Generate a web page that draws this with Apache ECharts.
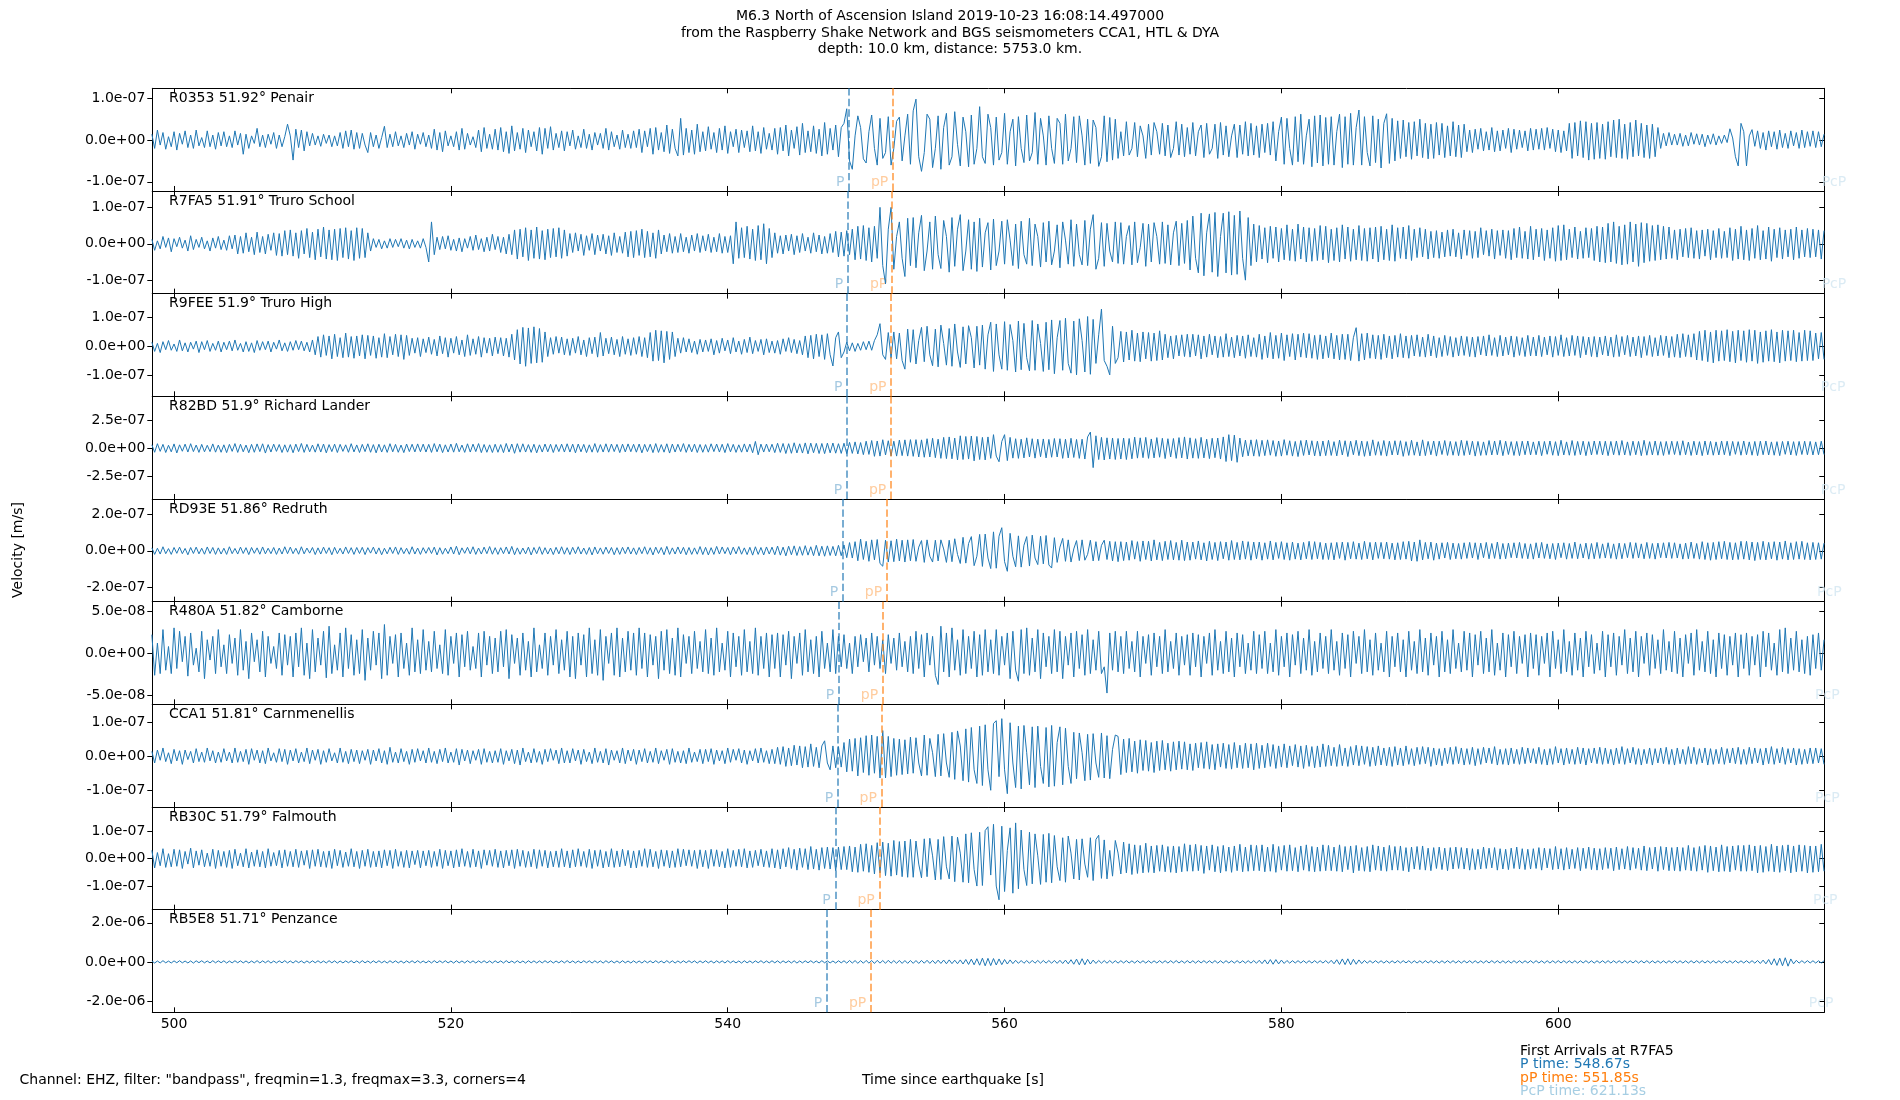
<!DOCTYPE html>
<html><head><meta charset="utf-8">
<script src="https://cdn.jsdelivr.net/npm/echarts@6/dist/echarts.min.js"></script>
<style>html,body{margin:0;padding:0;background:#fff}#c{width:1900px;height:1100px}</style>
</head><body><div id="c"></div>
<script>
// ---- data ----
const T0 = 498.4;      // time of first sample [s]
const DT = 0.2;        // sample spacing [s]
const ROW_SPAN = 5;    // each row below holds 5 s of samples
const xMin = 498.43, xMax = 619.22;
const xTicks = [500, 520, 540, 560, 580, 600];
const stationCodes = ['R0353','R7FA5','R9FEE','R82BD','RD93E','R480A','CCA1','RB30C','RB5E8'];
const distancesDeg = [51.92, 51.91, 51.9, 51.9, 51.86, 51.82, 51.81, 51.79, 51.71];
const stationNames = ['Penair','Truro School','Truro High','Richard Lander','Redruth','Camborne','Carnmenellis','Falmouth','Penzance'];
const pTimes   = [548.76, 548.67, 548.62, 548.60, 548.30, 548.01, 547.94, 547.77, 547.15];
const ppTimes  = [551.92, 551.85, 551.80, 551.78, 551.48, 551.19, 551.10, 550.95, 550.33];
const pcpTimes = [621.13, 621.13, 621.07, 621.07, 620.80, 620.65, 620.65, 620.50, 620.20];
const yMins = [-122, -137, -175, -450, -280, -60.3, -149, -186, -2580];   // nm/s
const yMaxs = [124, 145, 184, 460, 285, 61, 152, 188, 2670];
const yTicks = [[-100,0,100],[-100,0,100],[-100,0,100],[-250,0,250],[-200,0,200],[-50,0,50],[-100,0,100],[-100,0,100],[-2000,0,2000]];
const refStation = 'R7FA5';
const refArrivals = [['P', 548.67], ['pP', 551.85], ['PcP', 621.13]];
const titleLines = ['M6.3 North of Ascension Island 2019-10-23 16:08:14.497000',
  'from the Raspberry Shake Network and BGS seismometers CCA1, HTL & DYA',
  'depth: 10.0 km, distance: 5753.0 km.'];

// velocity traces in nm/s; row r starts at T0 + r*ROW_SPAN, samples every DT
const r0353 = [
[14,-20,24,-12,18,-22,8,-16,20,-24,16,-10,22,-18,12,-20,24,-14,6,-18,22,-16,12,-22,18],
[-14,20,-16,10,-18,22,-12,16,-34,14,-20,10,-8,28,-16,12,-18,14,-10,18,-20,12,-16,8,38],
[10,-48,26,-18,24,-26,20,-14,16,-12,10,-15,14,-8,12,-16,10,-14,18,-20,22,-16,24,-22,18],
[-20,16,-12,-30,18,-16,12,-20,6,33,-18,14,-16,20,-14,10,-18,16,-12,20,-22,14,-10,18,-16],
[12,-20,26,-24,18,-28,22,-14,10,-16,20,-24,28,-22,16,-12,8,-18,24,-28,30,-20,14,-22,26],
[-24,30,-28,20,-32,34,-26,18,-22,28,-30,24,-16,20,-26,30,-34,28,-20,32,-24,16,-18,22,-26],
[20,-14,24,-22,10,-18,26,-20,14,-24,18,-12,16,-20,28,-24,20,-16,12,-22,24,-18,14,-20,22],
[-18,26,-30,22,-16,28,-34,30,-24,18,-28,36,-32,26,-20,-38,52,-36,28,-30,24,-34,38,-28,20],
[-26,32,-22,18,-30,28,-24,34,-32,20,-16,26,-30,24,-18,22,-28,34,-26,20,-32,30,-22,16,-24],
[28,-34,30,-26,36,-38,24,-20,32,-36,40,-30,22,-28,34,-32,26,-38,42,-34,28,-24,36,-40,30],
[40,75,-50,-70,10,58,30,-45,-55,20,60,-20,-60,52,-44,-30,56,-60,-20,45,55,-50,10,62,-58],
[70,98,-40,-75,-30,62,50,-66,-20,58,-70,30,64,-60,-40,68,-10,-62,55,20,-64,60,-58,-20,80],
[-40,-56,62,30,-60,55,-48,-30,64,-58,20,50,-62,56,-20,-54,60,-50,-30,66,-58,52,10,-60,58],
[-20,-56,52,40,-58,62,-50,-20,56,-54,58,10,-60,50,-56,48,30,-63,-40,58,-52,54,-48,50,-44],
[20,-38,44,-36,-20,42,-40,34,10,-44,38,-36,42,20,-34,40,-38,36,-42,-20,44,-36,38,-40,30],
[-34,42,-38,20,36,-42,40,-34,-20,38,-44,42,-36,34,-40,10,38,-42,36,-34,44,-38,40,-36,34],
[-42,38,-30,40,-36,44,-50,20,55,-58,52,-20,-60,56,-52,62,-58,10,50,-64,58,-55,60,-62,54],
[-58,56,-60,20,62,-66,56,-58,64,-60,30,72,-60,56,-30,-62,58,-54,50,-67,40,63,-56,52,-50],
[46,-44,48,-40,42,-46,44,-38,50,-42,40,-45,38,-44,42,-36,40,-42,34,-38,44,-40,36,-42,38],
[-28,24,-30,26,-22,28,-26,20,-24,30,-28,22,-26,24,-20,28,-30,26,-22,24,-18,22,-26,28,-24],
[26,-22,28,-24,30,-20,26,-28,24,-30,22,-26,40,-44,42,-38,46,-42,44,-48,40,-46,42,-44,38],
[-46,44,-40,48,-42,50,-44,38,-46,42,-40,48,-38,40,-42,36,-44,38,-40,30,-20,16,-14,18,-12],
[14,-12,16,-15,12,-14,18,-10,15,-12,14,-16,12,-10,15,-12,10,-8,12,-6,27,5,-40,-62,40],
[20,-62,10,25,-15,22,-20,18,-24,22,-16,20,-22,24,-18,16,-20,22,-14,18,-20,24,-18,20,-15],
[22,-18,20,-16,14]];

const r7fa5 = [
[12,-18,8,-14,20,-10,16,-22,14,-8,18,-12,10,-20,22,-16,12,-10,18,-14,8,-20,16,-12,20],
[-16,10,-18,22,-14,24,-28,20,-26,30,-22,18,-30,32,-24,20,-28,26,-18,30,-32,28,-34,36,-30],
[38,-34,30,-40,36,-28,42,-38,32,-44,40,-36,46,-42,38,-44,40,-46,42,-38,44,-42,36,-46,44],
[-40,42,-38,30,-20,14,-10,12,-14,8,-12,14,-10,12,-8,14,-12,10,-14,12,-10,8,-12,14,-10],
[-50,60,-30,18,-16,20,-14,22,-18,12,-20,16,-22,14,-12,20,-18,24,-16,14,-22,18,-20,26,-16],
[20,-24,18,-28,26,-30,38,-42,40,-36,44,-46,38,-40,46,-42,36,-44,40,-38,42,-36,44,-40,38],
[-34,28,-24,30,-20,26,-32,22,-18,28,-30,24,-20,26,-28,22,-32,30,-24,20,-26,32,-36,34,-38],
[36,-32,40,-38,34,-36,30,-40,38,-28,24,-22,28,-26,20,-24,28,-22,18,-26,24,-20,28,-24,22],
[-20,26,-24,18,-22,28,-26,20,-24,22,-55,60,-40,44,-38,48,-42,40,-46,50,-44,55,-55,42,-38],
[30,-26,22,-28,24,-20,26,-30,22,-24,28,-20,18,-26,30,-22,24,-28,20,-26,28,-24,34,-36,32],
[-34,36,-30,40,-44,48,-42,50,-46,44,-50,48,-40,100,-60,-110,40,100,-70,20,60,-40,-90,70,-60],
[72,-66,30,78,-74,-20,60,-70,76,-30,-68,64,20,-78,72,-62,40,80,-74,-20,66,-70,60,-76,70],
[-64,30,58,-72,68,-60,-20,62,-56,66,10,-60,54,-68,62,-30,-56,70,-60,54,20,-64,58,-50,62],
[-58,-20,52,-66,60,10,-56,66,-62,54,-30,-58,64,-60,40,80,-70,-40,58,-62,56,-20,-50,60,-54],
[58,-56,20,50,-58,60,-52,-10,56,-62,54,-50,58,20,-56,60,-54,52,-58,30,62,-60,56,-54,64],
[-72,76,-40,-80,84,-88,30,82,-78,86,-90,20,84,-80,88,-86,78,-84,90,-40,-100,72,-60,54,-50],
[50,-42,44,-52,48,-40,46,-50,42,-44,52,-46,40,-48,54,-42,46,-50,44,-48,42,-46,50,-44,48],
[-52,40,-46,44,-50,52,-42,46,-48,40,-44,50,-46,42,-48,44,-42,46,-50,48,-44,40,-46,52,-48],
[44,-40,46,-42,50,-46,40,-38,44,-36,40,-42,34,-38,36,-40,32,-36,38,-34,40,-36,30,-42,38],
[-32,36,-40,34,-38,44,-30,36,-34,40,-42,36,-32,38,-40,36,-44,42,-38,46,-40,34,-42,48,-44],
[40,-36,42,-46,38,-40,44,-48,50,-46,52,-44,40,-38,46,-42,34,-40,44,-38,42,-46,48,-50,46],
[-52,56,-50,60,-54,48,-58,52,-56,60,-50,54,-62,58,-52,56,-48,50,-46,52,-44,48,-42,46,-40],
[38,-44,40,-36,42,-38,44,-40,36,-42,38,-34,40,-44,36,-38,42,-40,34,-38,44,-46,40,-42,48],
[-44,38,-46,42,-40,50,-44,36,-42,46,-48,40,-38,44,-42,38,-36,40,-44,46,-40,38,-36,42,-38],
[40,-36,38,-42,36]];

const r9fee = [
[14,-18,10,-22,16,-12,20,-14,8,-18,22,-16,12,-20,14,-10,18,-22,16,-12,20,-18,10,-14,18],
[-20,14,-12,18,-16,22,-14,10,-20,16,-18,12,-22,20,-14,16,-12,18,-20,14,-10,22,-16,12,-18],
[16,-14,20,-12,18,-16,14,-20,22,-30,34,-38,40,-32,36,-44,42,-36,30,-40,46,-38,34,-42,36],
[-34,40,-44,38,-32,36,-42,30,-38,44,-40,34,-30,42,-36,40,-46,38,-32,28,-24,30,-36,26,-22],
[32,-28,24,-34,36,-26,30,-38,28,-24,34,-30,22,-36,40,-32,26,-28,34,-38,30,-24,28,-34,32],
[-26,30,-34,28,-38,42,-48,58,-62,66,-70,64,-60,68,-58,62,-56,50,-36,30,-28,34,-24,32,-30],
[26,-32,28,-24,34,-30,22,-36,30,-26,32,-38,48,-34,28,-26,32,-30,24,-36,34,-28,26,-32,30],
[-28,34,-36,30,-40,48,-52,56,-50,54,-58,52,-46,50,-36,28,-24,30,-20,26,-22,18,-28,24,-20],
[22,-18,26,-30,20,-24,28,-16,22,-26,30,-20,18,-28,24,-22,32,-26,20,-18,24,-30,26,-22,18],
[-24,20,-28,26,-18,30,-22,24,-26,20,-30,36,-40,38,-44,42,-36,40,-46,44,-30,-69,30,50,-40],
[-20,14,-16,12,-18,10,-14,16,-12,18,-14,20,40,79,-30,-46,48,-42,50,-44,46,-50,-80,60,-56],
[58,-62,20,66,-54,70,-30,-68,60,-72,74,10,-66,62,-70,78,-20,-74,68,-62,72,30,-76,70,-66],
[74,-80,40,84,-88,78,-30,-80,86,-84,76,20,-90,88,-82,80,-40,-86,90,-84,78,10,-88,84,-82],
[92,-96,30,90,-84,98,-60,-94,88,-100,96,20,-90,104,-98,94,-60,40,130,-50,-70,-100,70,-60,-40],
[52,-55,50,-48,56,-52,46,-54,50,-44,48,-52,46,-50,54,-48,42,-40,36,-44,38,-34,40,-36,42],
[-38,42,-34,40,-44,36,-38,42,-30,36,-40,34,-38,44,-36,32,-40,38,-34,36,-42,40,-36,30,-38],
[42,-46,36,-40,48,-44,38,-42,46,-50,40,-36,44,-48,42,-38,46,-40,44,-42,38,-46,40,-44,36],
[-40,46,-44,38,-48,42,-46,42,-50,30,65,-52,44,-48,46,-42,40,-44,38,-46,42,-40,36,-44,38],
[-38,44,-40,36,-42,38,-34,40,-36,32,-38,42,-34,36,-40,30,-36,38,-32,34,-38,30,-34,36,-32],
[34,-36,32,-38,34,-30,36,-34,40,-32,30,-36,38,-34,32,-30,36,-38,34,-32,30,-36,38,-34,32],
[-34,38,-36,32,-30,36,-38,34,-32,40,-36,30,-34,38,-32,36,-40,34,-30,32,-36,34,-38,32,-30],
[36,-34,32,-38,40,-36,34,-30,38,-36,32,-34,36,-40,34,-32,38,-36,30,-34,38,-32,36,-40,34],
[-38,42,-40,44,-36,40,-38,44,-48,52,-50,56,-54,50,-58,56,-52,54,-50,58,-54,52,-58,56,-50],
[54,-56,58,-52,56,-60,50,-56,54,-52,58,-54,50,-58,56,-52,54,-50,56,-54,48,-52,56,-50,54],
[-50,46,-44,48,-46]];

const r82bd = [
[30,-36,40,-28,34,-38,26,-32,38,-42,30,-27,36,-34,40,-30,28,-37,34,-32,26,-30,38,-35,28],
[-36,30,-39,34,-28,41,-37,35,-32,28,-40,34,-36,38,-30,39,-43,32,-34,36,-28,33,-38,30,-35],
[32,-40,36,-30,42,-37,34,-32,28,-35,39,-34,37,-41,32,-30,36,-38,34,-28,30,-36,40,-33,29],
[-38,34,-30,39,-36,32,-41,35,-34,30,-37,40,-32,34,-36,28,-39,37,-30,35,-33,38,-31,36,-34],
[34,-37,41,-32,36,-39,30,-34,37,-35,43,-32,28,-37,39,-34,36,-30,41,-39,33,-36,30,-38,35],
[-36,32,-39,42,-34,37,-45,40,-35,39,-34,32,-37,35,-41,30,-34,37,-32,35,-38,33,-30,36,-34],
[39,-34,36,-41,37,-32,34,-39,30,-35,41,-37,32,-34,39,-35,37,-30,34,-39,36,-33,38,-31,35],
[-35,37,-41,34,-30,35,-39,41,-37,32,-35,39,-43,37,-34,35,-30,41,-37,34,-32,36,-38,33,-36],
[32,-35,39,-30,37,-34,35,-39,41,-32,34,-37,30,-35,38,-34,36,-40,60,-58,36,-34,37,-32,35],
[-39,44,-37,42,-47,40,-45,48,-42,39,-43,47,-50,45,-40,43,-47,42,-48,45,-41,46,-44,40,-46],
[44,-48,52,-46,56,-51,50,-57,62,-55,68,-72,64,-70,75,-60,66,-68,62,-70,72,-66,74,-70,76],
[-72,76,-78,74,-80,84,-78,88,-84,80,-90,96,-92,100,-94,90,-104,110,-100,104,-96,108,-112,104,-100],
[96,-104,100,-90,120,-70,-120,60,120,-110,96,-88,84,-90,80,-86,92,-78,84,-88,80,-76,82,-86,78],
[-80,86,-78,84,-90,80,-86,88,-82,78,-90,80,-96,100,143,-172,110,-100,96,-104,92,-96,90,-100,86],
[-96,90,-100,86,-94,98,-88,92,-84,96,-90,82,-86,94,-80,88,-92,84,-78,86,-90,94,-86,100,-96],
[92,-88,84,-90,96,-86,80,-92,88,-84,90,-96,100,-118,120,-110,116,-125,90,-76,72,-68,74,-70,76],
[-72,70,-66,74,-62,68,-72,64,-70,76,-62,66,-70,60,-74,68,-64,72,-60,66,-68,62,-70,64,-66],
[70,-64,58,-68,72,-60,66,-74,62,-58,70,-66,64,-72,60,-68,74,-62,58,-64,68,-70,62,-60,66],
[-60,66,-72,58,-64,70,-62,56,-68,74,-66,60,-58,64,-70,62,-56,68,-64,60,-62,58,-66,70,-64],
[66,-58,62,-70,60,-64,56,-62,68,-60,64,-58,70,-66,62,-56,58,-64,60,-66,62,-58,64,-60,56],
[-58,62,-66,60,-54,64,-62,58,-66,70,-60,56,-62,68,-64,60,-58,62,-66,58,-60,64,-56,62,-60],
[62,-66,60,-58,64,-62,68,-60,56,-64,62,-58,60,-66,70,-62,58,-60,64,-62,58,-64,60,-56,62],
[-56,60,-62,66,-58,54,-64,62,-60,58,-66,64,-58,60,-62,56,-60,64,-58,62,-66,60,-54,58,-62],
[64,-58,56,-62,60,-66,62,-58,64,-60,56,-62,58,-66,60,-54,62,-60,58,-64,60,-56,62,-58,60],
[-60,56,-58,62,-56]];

const rd93e = [
[16,-20,14,-18,22,-16,12,-20,18,-14,20,-16,13,-22,18,-15,20,-17,14,-19,21,-15,18,-20,16],
[-18,14,-20,22,-16,13,-18,20,-15,17,-21,18,-14,16,-19,21,-17,14,-16,18,-20,15,-18,22,-16],
[20,-16,14,-19,22,-17,15,-13,18,-21,16,-18,20,-15,17,-22,19,-16,14,-18,21,-15,17,-20,18],
[-15,19,-21,17,-13,20,-18,16,-22,14,-17,19,-15,21,-20,17,-16,14,-19,22,-18,15,-20,17,-14],
[18,-15,20,-23,17,-19,14,-16,21,-18,25,-22,16,-14,19,-17,22,-20,15,-18,20,-16,23,-19,17],
[-20,17,-16,21,-18,24,-22,16,-19,15,-17,20,-23,18,-16,22,-20,17,-18,15,-21,19,-17,22,-19],
[17,-21,19,-16,22,-18,15,-20,18,-23,21,-17,16,-19,20,-15,18,-22,17,-20,19,-16,21,-18,16],
[-21,18,-16,22,-19,17,-23,20,-15,18,-22,24,-20,16,-18,21,-17,19,-22,18,-20,16,-19,23,-21],
[19,-23,17,-20,24,-18,21,-16,18,-22,20,-17,23,-19,16,-21,19,-24,22,-20,18,-23,21,-18,20],
[-22,26,-24,20,-28,25,-22,27,-26,23,-25,28,-24,22,-27,30,-28,25,-30,27,-26,24,-28,30,-27],
[32,-38,45,-40,50,-55,64,-48,52,-58,60,-50,62,-70,-85,58,-62,55,-60,64,-56,58,-62,60,-55],
[62,-58,20,56,-64,60,-30,-62,58,-56,60,10,-64,58,-60,66,-20,-70,74,-68,40,78,-82,-30,90],
[-86,92,-40,-98,104,-96,80,127,-60,-113,96,-30,-88,82,-90,30,78,-84,86,-40,-76,80,-72,84,-78],
[-95,72,-64,20,68,-58,60,-62,10,56,-54,60,-52,-20,58,-56,50,-54,30,58,-48,52,-56,50,-60],
[50,-54,48,-52,56,-46,50,-58,54,-48,52,-56,60,-50,46,-54,52,-48,56,-50,46,-52,58,-54,48],
[-52,48,-46,54,-50,44,-56,52,-48,46,-54,50,-44,48,-52,56,-48,46,-50,54,-46,50,-52,48,-44],
[48,-52,44,-46,54,-50,46,-42,50,-48,44,-52,48,-46,42,-50,46,-44,52,-48,50,-44,46,-48,42],
[-48,44,-50,46,-42,48,-52,46,-44,50,-46,42,-48,52,-44,46,-50,48,-42,46,-44,48,-46,42,-50],
[44,-48,50,-46,52,-56,48,-58,60,-50,46,-44,48,-52,42,-46,44,-40,46,-48,42,-44,40,-46,44],
[-42,46,-40,44,-48,42,-38,46,-44,40,-42,48,-46,40,-44,42,-38,44,-40,46,-42,40,-44,38,-46],
[44,-40,46,-42,38,-44,40,-48,42,-38,44,-46,40,-42,48,-44,38,-40,42,-46,40,-44,46,-42,38],
[-40,44,-42,38,-46,42,-44,40,-38,46,-42,44,-40,38,-44,46,-42,40,-46,42,-38,44,-40,46,-42],
[44,-40,38,-46,42,-44,48,-42,40,-46,50,-48,44,-52,46,-48,50,-44,52,-48,46,-50,44,-48,52],
[-46,52,-50,48,-54,46,-48,52,-50,46,-44,50,-52,48,-46,54,-50,44,-48,50,-46,52,-48,44,-50],
[46,-48,44,-46,42]];

const r480a = [
[22,-26,12,-24,28,-20,8,-24,30,-18,26,-10,20,-27,24,-14,6,-22,26,-30,16,-8,20,-24,28],
[-16,10,-24,22,-12,18,-26,28,-20,14,-30,24,-10,16,-22,26,-28,20,-12,8,-18,24,-26,22,-14],
[20,-28,24,-16,30,-26,12,-30,28,-22,18,-14,26,-29,32,-24,10,-20,24,-28,30,-18,22,-26,16],
[-24,28,-32,18,-20,26,-14,24,-30,34,-26,20,-12,22,-28,24,-18,12,-26,30,-22,16,-24,28,-20],
[14,-22,26,-18,10,-24,28,-26,20,-12,24,-28,22,-16,26,-20,8,-18,24,-28,26,-14,20,-24,18],
[-22,26,-16,28,-30,22,-12,18,-26,24,-20,14,-28,30,-22,10,-18,24,-26,20,-14,28,-24,16,-20],
[26,-28,20,-30,24,-14,22,-28,30,-24,16,-26,28,-32,20,-12,24,-26,30,-28,18,-22,26,-20,24],
[-26,30,-18,24,-28,22,-14,20,-30,26,-20,28,-24,18,-26,30,-28,22,-12,20,-24,26,-18,14,-22],
[28,-24,18,-26,30,-22,12,-20,26,-28,24,-16,20,-26,28,-22,14,-24,30,-26,20,-18,24,-28,22],
[-18,24,-28,22,-14,26,-30,20,-12,24,-26,28,-22,16,-24,20,-28,26,-18,12,-22,28,-24,20,-16],
[22,-18,12,-24,20,-16,22,-10,18,-22,24,-14,20,-18,16,-24,22,-12,18,-20,24,-16,14,-22,20],
[-24,26,-18,22,-28,24,-14,20,-26,-37,32,-22,24,-28,30,-20,16,-26,28,-24,20,-18,26,-28,22],
[-26,28,-22,16,-24,28,-26,20,-14,24,-30,26,-20,-33,28,-24,30,-26,18,-22,28,-30,24,-16,20],
[-24,28,-22,26,-30,20,-14,24,-28,26,-18,22,-26,28,-24,16,-20,26,-24,-16,-47,24,-20,26,-22],
[20,-24,26,-18,14,-22,26,-28,20,-12,22,-26,24,-16,20,-24,28,-22,14,-18,24,-26,20,-14,22],
[-26,24,-16,22,-28,20,-12,24,-26,28,-20,14,-24,26,-22,18,-28,24,-16,22,-24,12,-20,26,-24],
[22,-18,26,-24,12,-22,28,-26,20,-16,24,-28,22,-14,26,-24,18,-20,28,-26,14,-22,24,-18,20],
[-24,28,-20,14,-26,24,-18,22,-28,26,-12,20,-24,28,-22,16,-26,24,-20,12,-22,26,-28,20,-16],
[24,-22,16,-28,26,-20,14,-24,28,-22,18,-26,24,-14,20,-28,26,-22,16,-24,28,-18,12,-22,26],
[-20,24,-28,22,-14,26,-24,18,-22,28,-26,12,-20,24,-28,22,-16,26,-24,20,-12,22,-28,24,-18],
[22,-26,20,-12,24,-28,26,-18,16,-24,28,-22,14,-26,24,-20,18,-28,26,-16,22,-24,12,-20,26],
[-28,22,-16,24,-26,20,-14,28,-24,18,-22,26,-28,20,-12,24,-26,22,-18,16,-24,28,-20,14,-22],
[26,-24,18,-28,22,-12,24,-26,28,-20,14,-22,26,-24,16,-28,24,-18,22,-26,20,-14,24,-28,22],
[-18,24,-26,20,-14,22,-28,26,-16,24,-20,12,-26,28,-22,30,-24,18,-20,26,-22,16,-24,20,-26],
[22,-18,24,-20,16]];

const cca1 = [
[14,-20,18,-12,24,-16,10,-22,20,-14,16,-24,18,-10,14,-20,22,-16,12,-18,24,-14,16,-20,12],
[-18,22,-14,12,-20,24,-18,14,-16,20,-24,22,-12,18,-20,16,-22,24,-14,10,-18,22,-16,20,-24],
[18,-14,22,-20,12,-16,24,-22,18,-12,20,-24,16,-18,22,-14,10,-20,24,-18,14,-22,20,-16,18],
[-22,16,-12,20,-24,18,-14,22,-20,16,-24,26,-18,12,-20,22,-16,14,-24,20,-18,22,-14,16,-20],
[24,-18,14,-22,20,-16,24,-20,12,-18,22,-26,20,-14,18,-22,16,-12,20,-24,22,-18,14,-20,16],
[-18,22,-24,16,-14,20,-22,18,-26,24,-16,12,-20,22,-18,14,-24,20,-16,22,-12,18,-22,24,-20],
[16,-20,22,-14,18,-24,20,-16,12,-22,24,-18,14,-20,22,-26,18,-12,16,-20,24,-22,18,-14,20],
[-24,18,-16,22,-20,14,-18,24,-22,16,-12,20,-24,22,-18,14,-20,16,-22,24,-18,12,-16,20,-22],
[20,-16,22,-24,18,-14,16,-22,24,-18,20,-12,22,-20,18,-24,16,-14,22,-20,24,-18,16,-22,20],
[-22,26,-24,28,-30,24,-28,32,-26,30,-34,28,-32,36,-30,26,-34,30,45,-20,-40,30,-34,28,-32],
[40,-46,50,-44,52,-58,54,-48,60,-56,62,-50,58,-64,75,-64,58,-60,52,-56,50,-54,48,-52,56],
[-50,54,-20,-58,62,-56,52,10,-60,64,-58,66,-20,-62,70,-68,74,30,-72,80,-76,84,-40,-80,88],
[-86,92,-40,-100,96,104,-60,110,-40,-110,98,-20,-92,88,-96,90,10,-84,86,-92,88,-30,-80,84,-90],
[90,-88,40,86,-84,82,-30,-80,70,-66,68,10,-72,64,-70,66,-20,-62,68,-64,60,-66,20,62,58],
[-54,50,-48,52,-46,44,-50,48,-42,46,-44,40,-48,44,-42,46,-40,38,-44,42,-40,44,-38,42,-40],
[36,-42,38,-34,40,-36,42,-38,34,-40,36,-32,38,-36,34,-38,40,-34,32,-36,38,-34,36,-40,38],
[-36,32,-34,38,-30,34,-36,30,-32,36,-34,30,-28,34,-32,30,-36,32,-30,28,-34,30,-32,36,-30],
[32,-28,26,-30,34,-28,24,-30,28,-26,32,-28,30,-24,28,-30,26,-28,30,-26,24,-28,26,-30,28],
[-26,24,-28,30,-24,22,-28,26,-24,28,-22,26,-30,24,-26,22,-28,24,-22,26,-24,28,-22,24,-26],
[22,-24,26,-28,22,-24,26,-20,24,-22,28,-26,20,-24,22,-26,24,-22,20,-24,26,-22,24,-20,22],
[-22,26,-24,20,-26,22,-24,28,-20,22,-26,24,-22,20,-24,26,-22,24,-26,22,-20,24,-22,26,-24],
[24,-22,20,-26,24,-22,28,-24,22,-20,26,-24,22,-26,20,-22,24,-26,22,-20,24,-22,26,-24,20],
[-26,24,-22,20,-24,28,-22,26,-24,22,-20,24,-26,22,-24,20,-22,26,-24,22,-20,24,-22,26,-24],
[20,-24,26,-22,24,-20,22,-26,24,-22,28,-24,22,-20,26,-24,22,-20,24,-26,22,-24,20,-22,24],
[-22,24,-20,22,-24]];

const rb30c = [
[30,-34,22,-26,36,-32,18,-30,34,-28,32,-36,26,-20,38,-34,28,-24,32,-30,20,-28,34,-36,30],
[-28,26,-32,30,-36,34,-26,20,-30,36,-34,24,-28,32,-30,26,-34,36,-28,22,-26,30,-34,32,-28],
[26,-30,34,-32,28,-24,30,-36,32,-28,34,-30,26,-32,28,-36,34,-26,30,-32,24,-28,36,-30,26],
[-36,30,-28,34,-32,26,-30,28,-34,32,-26,30,-36,34,-28,26,-32,30,-34,28,-22,30,-34,28,-26],
[30,-32,26,-28,34,-36,30,-26,28,-34,32,-30,36,-28,26,-32,34,-30,28,-36,32,-24,30,-28,34],
[-32,28,-34,30,-26,32,-36,34,-28,30,-32,26,-30,34,-36,32,-28,30,-34,26,-30,28,-32,36,-30],
[28,-34,32,-30,36,-28,26,-32,34,-36,30,-28,32,-34,26,-30,36,-32,28,-30,34,-26,30,-34,28],
[-34,30,-28,36,-32,34,-30,26,-36,32,-28,30,-34,28,-32,36,-30,34,-26,32,-28,30,-36,32,-30],
[30,-36,34,-28,32,-30,26,-34,36,-32,30,-28,34,-30,36,-34,28,-32,30,-26,34,-30,28,-32,36],
[-34,32,-38,36,-30,40,-36,34,-42,38,-32,36,-40,44,-38,34,-42,40,-36,42,-38,40,-44,42,-40],
[44,-40,46,-48,42,-50,52,-46,54,-50,48,-56,58,-52,60,-62,56,-64,66,-60,62,-66,64,-68,70],
[-68,64,-20,-70,72,-66,74,10,-78,70,-76,80,-30,-74,82,-84,78,20,-86,90,-88,94,-40,-100,96],
[-98,102,116,-60,125,-100,-150,118,-120,30,112,-126,130,-110,104,-40,-98,96,-92,90,10,-94,88,-86,92],
[-88,84,-30,-80,76,-86,82,20,-74,70,-78,72,-20,-68,76,-80,70,85,-72,68,-74,30,-64,66,20],
[-56,60,-52,54,-58,50,-54,48,-52,56,-50,46,-52,48,-46,50,-48,44,-50,46,-52,44,-48,54,-46],
[50,-46,52,-44,48,-54,46,-42,50,-48,44,-52,48,-46,42,-50,46,-44,52,-48,42,-46,50,-44,48],
[-44,50,-48,42,-46,52,-50,44,-42,48,-46,50,-44,40,-48,46,-42,50,-46,44,-48,42,-46,50,-44],
[48,-44,42,-46,50,-48,44,-40,46,-52,48,-44,40,-46,44,-48,50,-42,46,-44,42,-46,48,-42,44],
[-42,46,-44,40,-48,42,-38,44,-40,46,-42,38,-44,40,-36,42,-40,38,-44,40,-38,42,-36,40,-38],
[38,-42,36,-40,34,-38,42,-36,38,-34,40,-42,36,-38,34,-40,38,-36,42,-38,36,-40,34,-38,36],
[-36,40,-42,38,-34,36,-40,44,-38,36,-42,40,-38,34,-36,40,-44,38,-36,42,-40,38,-42,36,-40],
[40,-36,38,-44,42,-40,36,-38,44,-42,40,-36,38,-42,46,-44,40,-38,42,-46,44,-40,42,-44,40],
[-44,42,-46,40,-42,48,-44,40,-46,44,-42,48,-50,46,-44,42,-48,50,-46,44,-48,46,-42,48,-46],
[48,-46,50,-44,46,-52,48,-50,44,-46,52,-48,46,-50,48,-44,50,-52,46,-48,50,-46,48,-52,46],
[-50,46,-48,52,-46]];

const rb5e8 = [
[50,-60,45,-55,62,-48,40,-58,52,-46,60,-50,44,-56,48,-62,54,-42,58,-50,46,-54,60,-48,52],
[-44,56,-60,42,-50,58,-46,54,-52,48,-58,44,-50,62,-56,52,-46,58,-60,44,-52,50,-48,62,-54],
[46,-58,56,-42,50,-60,48,-52,54,-46,58,-50,44,-56,60,-48,52,-62,46,-54,50,-44,58,-52,48],
[-56,62,-50,46,-58,54,-48,56,-50,42,-60,58,-46,52,-54,48,-62,50,-44,56,-52,60,-48,46,-54],
[50,-56,62,-48,54,-46,58,-52,44,-60,56,-50,48,-54,62,-46,52,-58,50,-44,56,-52,48,-60,54],
[-46,50,-58,62,-48,44,-54,56,-50,46,-62,58,-48,52,-56,48,-54,60,-46,52,-58,44,-50,56,-52],
[62,-48,50,-56,46,-54,58,-44,52,-60,54,-48,50,-62,58,-46,52,-54,48,-56,60,-50,44,-58,54],
[-52,46,-60,56,-48,50,-52,58,-48,44,-56,62,-50,54,-60,48,-52,56,-46,58,-44,52,-62,50,-48],
[56,-52,48,-60,54,-46,52,-58,62,-48,50,-54,46,-62,58,-50,48,-56,52,-44,60,-54,46,-52,58],
[-50,54,-60,52,-46,50,-58,56,-62,48,-52,54,-46,58,-50,44,-56,62,-48,52,-54,46,-60,56,-50],
[58,-64,70,-60,66,-72,62,-68,74,-66,70,-80,76,-64,68,-72,80,-70,66,-74,72,-78,68,-76,70],
[-76,68,-80,74,-70,82,-78,72,-84,88,-80,92,-96,100,-90,86,-94,100,-110,120,-130,140,-150,160,-170],
[190,-200,180,-190,170,-160,150,-140,120,-110,100,-90,80,-76,70,-72,66,-70,74,-68,72,-66,70,-64,68],
[-70,72,-76,80,-84,90,-100,110,-120,140,-150,160,-150,130,-110,90,-80,72,-68,64,-70,66,-62,58,-64],
[60,-56,62,-58,54,-60,64,-56,58,-62,56,-60,54,-58,62,-56,58,-62,60,-56,64,-58,54,-60,62],
[-56,58,-64,60,-54,62,-58,56,-60,64,-66,58,-62,60,-56,54,-60,62,-58,56,-62,60,-64,66,-70],
[80,-90,100,-110,116,-120,116,-104,90,-80,70,-64,60,-58,62,-56,60,-62,58,-60,62,-56,58,-60,64],
[-70,80,-96,110,-130,150,-140,156,-150,130,-120,100,-86,72,-66,60,-58,62,-56,58,-62,56,-60,54,-58],
[62,-56,60,-54,58,-62,56,-60,54,-58,60,-56,62,-58,54,-60,58,-56,62,-54,60,-58,56,-62,58],
[-54,60,-58,56,-62,54,-58,60,-56,62,-54,58,-60,56,-58,54,-62,60,-56,58,-60,56,-54,62,-58],
[60,-56,54,-62,58,-60,56,-54,62,-58,60,-56,54,-60,58,-62,56,-54,60,-58,56,-62,58,-54,60],
[-56,62,-60,58,-54,56,-62,60,-58,54,-56,62,-60,58,-54,60,-62,56,-58,54,-60,56,-62,58,-54],
[62,-58,56,-60,54,-62,58,-56,60,-54,62,-58,56,-60,58,-62,54,-56,60,-58,56,-60,62,-58,54],
[-56,60,-58,62,-64,70,-80,90,-100,120,-150,160,-180,190,-200,210,-220,150,-100,80,-64,60,-58,62,-56],
[58,-60,56,-58,54]];

const traces = [r0353, r7fa5, r9fee, r82bd, rd93e, r480a, cca1, rb30c, rb5e8];

// ---- layout / style ----
const FONT = 'DejaVu Sans';
const FS = 14;
const GRID_LEFT = 152.3, GRID_W = 1672, GRID_TOP = 88.3, PANEL_H = 102.67;
const BLUE = '#1f77b4', ORANGE = '#ff7f0e', LIGHT = '#a6cee3';

function sci(v) {
  const x = v * 1e-9;
  if (Math.abs(x) < 1e-20) return '0.0e+00';
  const parts = x.toExponential(1).split('e');
  const sign = parts[1][0] === '-' ? '-' : '+';
  let d = parts[1].replace(/[+-]/, '');
  if (d.length < 2) d = '0' + d;
  return parts[0] + 'e' + sign + d;
}
function toPoints(rows) {
  const pts = [];
  rows.forEach((row, r) => row.forEach((v, j) => pts.push([T0 + r * ROW_SPAN + j * DT, v])));
  return pts;
}

const grids = [], xAxes = [], yAxes = [], series = [], graphic = [];
const axLine = { show: true, onZero: false, lineStyle: { color: '#000', width: 1 } };
const tickStyle = { color: '#000', width: 1 };
for (let i = 0; i < traces.length; i++) {
  grids.push({ left: GRID_LEFT, top: GRID_TOP + i * PANEL_H, width: GRID_W, height: PANEL_H, outerBoundsMode: 'none', containLabel: false });
  xAxes.push({ type: 'value', gridIndex: i, position: 'bottom', min: xMin, max: xMax,
    axisLine: axLine,
    axisTick: { show: true, inside: true, length: 5, customValues: xTicks, lineStyle: tickStyle },
    axisLabel: { show: i === traces.length - 1, customValues: xTicks, color: '#000', fontSize: FS, fontFamily: FONT, margin: 5 },
    splitLine: { show: false } });
  xAxes.push({ type: 'value', gridIndex: i, position: 'top', min: xMin, max: xMax,
    axisLine: axLine,
    axisTick: { show: true, inside: true, length: 5, customValues: xTicks, lineStyle: tickStyle },
    axisLabel: { show: false }, splitLine: { show: false } });
  yAxes.push({ type: 'value', gridIndex: i, position: 'left', min: yMins[i], max: yMaxs[i],
    axisLine: axLine,
    axisTick: { show: true, inside: false, length: 5, customValues: yTicks[i], lineStyle: tickStyle },
    axisLabel: { show: true, customValues: yTicks[i], formatter: sci, color: '#000', fontSize: FS, fontFamily: FONT, margin: 7 },
    splitLine: { show: false } });
  yAxes.push({ type: 'value', gridIndex: i, position: 'right', min: yMins[i], max: yMaxs[i],
    axisLine: axLine,
    axisTick: { show: true, inside: true, length: 5, customValues: yTicks[i], lineStyle: tickStyle },
    axisLabel: { show: false }, splitLine: { show: false } });

  series.push({ type: 'line', xAxisIndex: 2 * i, yAxisIndex: 2 * i,
    data: toPoints(traces[i]),
    symbol: 'none', showSymbol: false, silent: true, clip: true, animation: false,
    lineStyle: { color: BLUE, width: 1 },
    markLine: { silent: true, animation: false, symbol: ['none', 'none'], label: { show: false },
      data: [
        { xAxis: pTimes[i], lineStyle: { color: 'rgba(31,119,180,0.6)', width: 2, type: [7.4, 3.2] } },
        { xAxis: ppTimes[i], lineStyle: { color: 'rgba(255,127,14,0.6)', width: 2, type: [7.4, 3.2] } }
      ] } });
  series.push({ type: 'scatter', xAxisIndex: 2 * i, yAxisIndex: 2 * i, symbolSize: 1, clip: false, silent: true, animation: false,
    itemStyle: { color: 'rgba(0,0,0,0)' },
    label: { show: true, position: 'left', distance: 4, offset: [0, -9], fontSize: FS, fontFamily: FONT },
    data: [
      { value: [pTimes[i], yMins[i]], label: { formatter: 'P', color: '#8fbbd9' } },
      { value: [ppTimes[i], yMins[i]], label: { formatter: 'pP', color: '#ffbf86' } },
      { value: [pcpTimes[i], yMins[i]], label: { formatter: 'PcP', color: '#d2e6f1' } }
    ] });

  graphic.push({ type: 'text', x: 169, y: GRID_TOP + i * PANEL_H + 10, silent: true,
    style: { text: stationCodes[i] + ' ' + distancesDeg[i] + '\u00b0 ' + stationNames[i], fontFamily: FONT, fontSize: FS, fill: '#000', align: 'left', verticalAlign: 'middle' } });
}

const txt = (x, y, text, color, align, extra) => Object.assign({ type: 'text', x: x, y: y, silent: true,
  style: { text: text, fontFamily: FONT, fontSize: FS, fill: color || '#000', align: align || 'left', verticalAlign: 'middle' } }, extra || {});

titleLines.forEach((t, k) => graphic.push(txt(950, 16.7 + k * 16.4, t, '#000', 'center')));
graphic.push(txt(18, 550, 'Velocity [m/s]', '#000', 'center', { rotation: Math.PI / 2 }));
graphic.push(txt(19.5, 1080, 'Channel: EHZ, filter: "bandpass", freqmin=1.3, freqmax=3.3, corners=4', '#000', 'left'));
graphic.push(txt(953, 1080, 'Time since earthquake [s]', '#000', 'center'));
graphic.push(txt(1520, 1051, 'First Arrivals at ' + refStation, '#000', 'left'));
const legendColors = [BLUE, ORANGE, LIGHT];
refArrivals.forEach((a, k) => graphic.push(txt(1520, 1064.6 + k * 13.6, a[0] + ' time: ' + a[1].toFixed(2) + 's', legendColors[k], 'left')));

const chart = echarts.init(document.getElementById('c'), null, { renderer: 'canvas' });
chart.setOption({
  backgroundColor: '#fff',
  animation: false,
  textStyle: { fontFamily: FONT },
  grid: grids, xAxis: xAxes, yAxis: yAxes, series: series, graphic: graphic
});
</script></body></html>
